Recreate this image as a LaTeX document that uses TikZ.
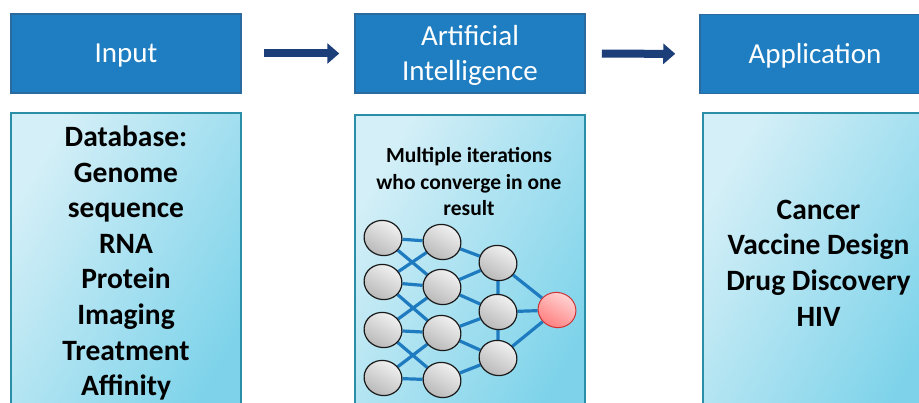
\documentclass[tikz,border=0pt]{standalone}
\usepackage{fontspec}
\setmainfont{Carlito}
\usetikzlibrary{shapes.geometric,arrows.meta}
\pgfdeclarelayer{front}
\pgfsetlayers{main,front}
\definecolor{topblue}{HTML}{1F7EC1}
\definecolor{topedge}{HTML}{2A6A9E}
\definecolor{cyanedge}{HTML}{2A8FA6}
\definecolor{cyanlight}{HTML}{D4EFF7}
\definecolor{cyandark}{HTML}{7ED3EA}
\definecolor{arrowblue}{HTML}{1C3F7A}
\definecolor{netblue}{HTML}{1F7BC0}
\tikzset{
  topbox/.style={draw=topedge, line width=1.5pt, fill=topblue, minimum width=230pt, minimum height=79pt, inner sep=0pt},
  toplabel/.style={text=white, font=\fontsize{29}{35}\selectfont, align=center, inner sep=0pt},
  lowbox/.style={draw=cyanedge, line width=2pt, left color=cyanlight, right color=cyandark, shading angle=60, minimum width=230pt, minimum height=310pt, inner sep=0pt},
  bigtext/.style={font=\bfseries\fontsize{29.5}{35.6}\selectfont, align=center, inner sep=0pt},
  smalltext/.style={font=\bfseries\fontsize{21.5}{26.5}\selectfont, align=center, inner sep=0pt},
  flowarrow/.style={draw=arrowblue, line width=8pt, -{Triangle[length=12pt,width=20pt]}},
  neuron/.style={ellipse, draw=black!90, line width=1.2pt, top color=gray!8, bottom color=gray!55, shading angle=-30, minimum width=38pt, minimum height=35pt, inner sep=0pt, rotate=-15},
  outneuron/.style={ellipse, draw=red!75!black!80, line width=1pt, top color=red!15, bottom color=red!50, shading angle=-30, minimum width=38pt, minimum height=35pt, inner sep=0pt, rotate=-15},
  link/.style={draw=netblue, line width=3.2pt}
}
\begin{document}
\begin{tikzpicture}[x=1pt,y=-1pt]
\useasboundingbox (0,0) rectangle (919,403);
\clip (0,0) rectangle (919,403);
\fill[white] (0,0) rectangle (919,403);
% top boxes
\node[topbox] (in) at (126,53.5) {};
\node[topbox] (ai) at (470,53.5) {};
\node[topbox] (app) at (815,54) {};
\node[toplabel] (inlabel) at (126,56) {Input};
\node[toplabel] (ailabel) at (470,55) {Artificial\\Intelligence};
\node[toplabel] (applabel) at (815,56) {Application};
\draw[flowarrow, shorten <=22pt, shorten >=15pt] (in) -- (ai);
\draw[flowarrow, shorten <=16pt, shorten >=24pt] (ai) -- (app);
% lower boxes
\node[lowbox] (inbox) at (126,268) {};
\node[lowbox] (aibox) at (470,270) {};
\node[lowbox] (appbox) at (818,268) {};
\node[bigtext] (intext) at (126,263) {Database:\\Genome\\sequence\\RNA\\Protein\\Imaging\\Treatment\\Affinity};
\node[smalltext] (aitext) at (469,182) {Multiple iterations\\who converge in one\\result};
\node[bigtext] (apptext) at (818.5,263) {Cancer\\Vaccine Design\\Drug Discovery\\HIV};
% neural net
\begin{pgfonlayer}{front}
\node[neuron] (a1) at (383,238) {};
\node[neuron] (a2) at (383,282) {};
\node[neuron] (a3) at (383,330) {};
\node[neuron] (a4) at (383,378) {};
\node[neuron] (b1) at (442,242) {};
\node[neuron] (b2) at (442,287) {};
\node[neuron] (b3) at (442,333) {};
\node[neuron] (b4) at (442,380) {};
\node[neuron] (c1) at (498,263) {};
\node[neuron] (c2) at (498,312) {};
\node[neuron] (c3) at (498,358) {};
\node[outneuron] (o) at (557,310) {};
\end{pgfonlayer}
\foreach \i in {1,2,3,4} {\draw[link] (a\i) -- (b\i);}
\foreach \i/\j in {1/2,2/3,3/4} {
  \draw[link] (a\i) -- (b\j);
  \draw[link] (a\j) -- (b\i);
}
\draw[link] (b1) -- (c1);
\draw[link] (b2) -- (c1);
\draw[link] (b2) -- (c2);
\draw[link] (b3) -- (c2);
\draw[link] (b3) -- (c3);
\draw[link] (b4) -- (c3);
\draw[link] (c1) -- (c2);
\draw[link] (c2) -- (c3);
\draw[link] (c1) -- (o);
\draw[link] (c2) -- (o);
\draw[link] (c3) -- (o);
\end{tikzpicture}
\end{document}
